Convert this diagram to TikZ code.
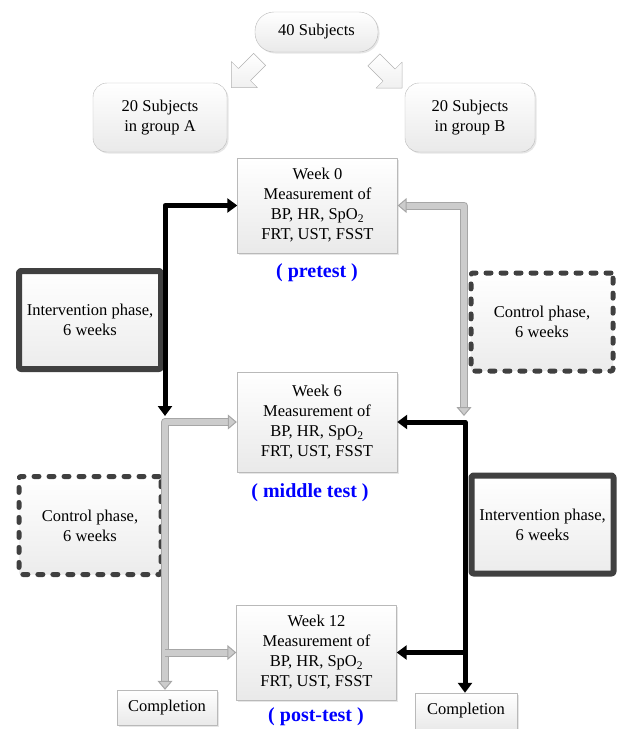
\documentclass[tikz,border=0pt]{standalone}
\usepackage{fontspec}
\setmainfont{Liberation Serif}
\usetikzlibrary{arrows.meta,shadows}

\begin{document}
\begin{tikzpicture}[x=1pt,y=-1pt, font=\fontsize{16.5}{20}\selectfont, line join=round,
  plain/.style={draw=gray!55, top color=white, bottom color=gray!17, align=center, inner sep=2pt,
    drop shadow={opacity=0.2, shadow xshift=1.5pt, shadow yshift=-1.5pt}},
  wk/.style={plain, minimum width=160pt, minimum height=95pt},
  bigarrow/.style={draw=gray!60, top color=white, bottom color=gray!12},
  ivbox/.style={draw=black!75, line width=6pt, rounded corners=2pt, top color=white, bottom color=gray!15,
    minimum width=142pt, minimum height=98pt, align=center},
  ctbox/.style={ivbox, line width=5pt, line cap=round, dash pattern=on 5pt off 10pt},
  lbl/.style={text=blue, font=\fontsize{20}{22}\selectfont\bfseries},
  blackarrow/.style={line width=5pt, >={Triangle[width=14pt,length=10pt]}},
  greyarrow/.style={draw=gray!70, line width=1pt, double=gray!40, double distance=6pt,
    >={Triangle[width=15pt,length=9pt,fill=gray!40]}}]
\useasboundingbox (0,0) rectangle (617,729);
% groups
\node[plain, rounded corners=19pt, minimum width=123pt, minimum height=40pt] (s40) at (316.5,32) {40 Subjects};
\node[plain, rounded corners=14pt, minimum width=134pt, minimum height=69pt] (gA) at (160,117.5) {20 Subjects\\in group A};
\node[plain, rounded corners=14pt, minimum width=130pt, minimum height=69pt] (gB) at (470,117.5) {20 Subjects\\in group B};
\foreach \x/\y/\a in {245.5/73.5/225, 388/74/-45}
  \draw[bigarrow, shift={(\x,\y)}, rotate=\a] (-20,-8.5) -- (1.5,-8.5) -- (1.5,-18.5) -- (20,0)
    -- (1.5,18.5) -- (1.5,8.5) -- (-20,8.5) -- cycle;
% phases
\node[ivbox] (ivA) at (90,320) {Intervention phase,\\6 weeks};
\node[ctbox] (ctB) at (542,322) {Control phase,\\6 weeks};
\node[ctbox] (ctA) at (90,525.5) {Control phase,\\6 weeks};
\node[ivbox] (ivB) at (542.5,524.5) {Intervention phase,\\6 weeks};
% measurements
\node[wk] (w0) at (317.5,205.5) {Week 0\\Measurement of\\BP, HR, SpO\textsubscript{2}\\FRT, UST, FSST};
\node[lbl] (t0) at (317,273) {( pretest )};
\node[wk, minimum height=100pt] (w6) at (317,422) {Week 6\\Measurement of\\BP, HR, SpO\textsubscript{2}\\FRT, UST, FSST};
\node[lbl] (t6) at (310,493) {( middle test )};
\node[wk] (w12) at (316.5,652.5) {Week 12\\Measurement of\\BP, HR, SpO\textsubscript{2}\\FRT, UST, FSST};
\node[lbl] (t12) at (316,717) {( post-test )};
\node[plain, minimum width=100pt, minimum height=35pt] (doneA) at (167,707.5) {Completion};
\node[plain, minimum width=102pt, minimum height=36pt] (doneB) at (466,711) {Completion};
% arrows
\coordinate (jA) at (165,416);
\coordinate (jB) at (464,416);
\coordinate (kA) at (165,422);
\coordinate (kB) at (465,422);
\draw[blackarrow,<->] (jA) |- (w0.west);
\draw[greyarrow,<->] (w0.east) -| (jB);
\draw[greyarrow,<->] (w6.west) -- (kA) -- (kA |- doneA.north);
\draw[greyarrow,->] (kA |- w12.west) -- (w12.west);
\draw[blackarrow,<->] (w6.east) -- (kB) -- (kB |- doneB.north);
\draw[blackarrow,->] (kB |- w12.east) -- (w12.east);
\end{tikzpicture}
\end{document}
